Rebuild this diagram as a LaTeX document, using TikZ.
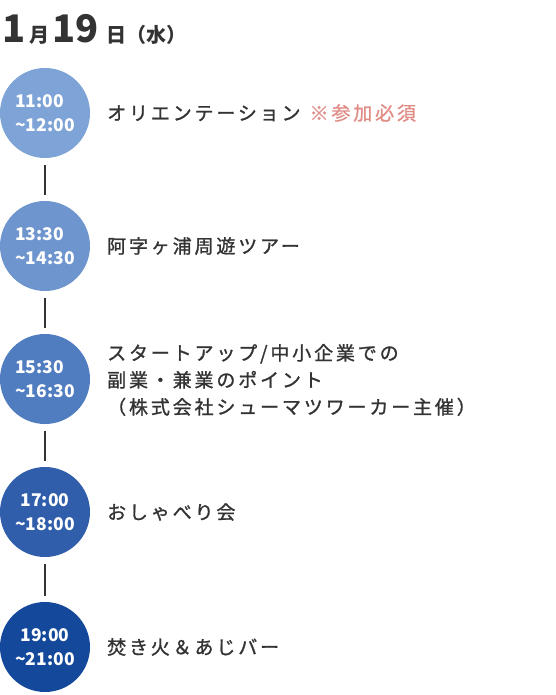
\documentclass[tikz,border=0pt]{standalone}
\usepackage{fontspec}
\setmainfont{Noto Sans CJK JP}
\newfontfamily\evfont[LetterSpace=15,FakeBold=1.2]{Noto Sans CJK JP}
\definecolor{txt}{HTML}{333333}
\definecolor{pink}{HTML}{E08C87}
\definecolor{cA}{RGB}{126,163,214}
\definecolor{cB}{RGB}{110,149,206}
\definecolor{cC}{RGB}{80,124,192}
\definecolor{cD}{RGB}{48,94,170}
\definecolor{cE}{RGB}{20,72,155}
\newcommand{\tld}{\char"7E\relax}
\begin{document}
\begin{tikzpicture}[x=1pt,y=-1pt]
\useasboundingbox (0,0) rectangle (555,695);
\tikzset{
 slot/.style={circle, minimum size=90pt, inner sep=0pt, text=white, font=\fontsize{17.5}{24}\selectfont\bfseries},
 evt/.style={anchor=west, inner sep=0pt, text=txt, font=\evfont\fontsize{19}{27}\selectfont, align=left},
 conn/.style={draw=txt, line width=2pt, shorten <=7pt, shorten >=6pt},
 ttl/.style={anchor=base west, inner sep=0pt, text=txt, font=\bfseries}
}
% title
\node[ttl, font=\fontsize{38}{38}\selectfont\bfseries] (t1) at (2,43) {1};
\node[ttl, font=\fontsize{20}{20}\selectfont\bfseries] (t2) at (29,43) {月};
\node[ttl, font=\fontsize{38}{38}\selectfont\bfseries] (t3) at (52,43) {19};
\node[ttl, font=\fontsize{20}{20}\selectfont\bfseries] (t4) at (106,43) {日};
\node[ttl, font=\fontsize{20}{20}\selectfont\bfseries] (t5) at (126,43) {（水）};
% circles
\node[slot, fill=cA, align=left] (c1) at (45,113) {11:00\\\tld12:00};
\node[slot, fill=cB, align=left] (c2) at (45,246) {13:30\\\tld14:30};
\node[slot, fill=cC, align=left] (c3) at (45,379) {15:30\\\tld16:30};
\node[slot, fill=cD, align=center] (c4) at (45,512) {17:00\\\tld18:00};
\node[slot, fill=cE, align=center] (c5) at (45,647) {19:00\\\tld21:00};
% connectors
\draw[conn] (c1) -- (c2);
\draw[conn] (c2) -- (c3);
\draw[conn] (c3) -- (c4);
\draw[conn] (c4) -- (c5);
% events
\node[evt] (e1) at (107,113) {オリエンテーション\hspace{9pt}{\color{pink}※参加必須}};
\node[evt] (e2) at (107,246) {阿字ヶ浦周遊ツアー};
\node[evt] (e3) at (107,380) {スタートアップ/中小企業での\\副業・兼業のポイント\\（株式会社シューマツワーカー主催）};
\node[evt] (e4) at (107,512) {おしゃべり会};
\node[evt] (e5) at (107,647) {焚き火＆あじバー};
\end{tikzpicture}
\end{document}
